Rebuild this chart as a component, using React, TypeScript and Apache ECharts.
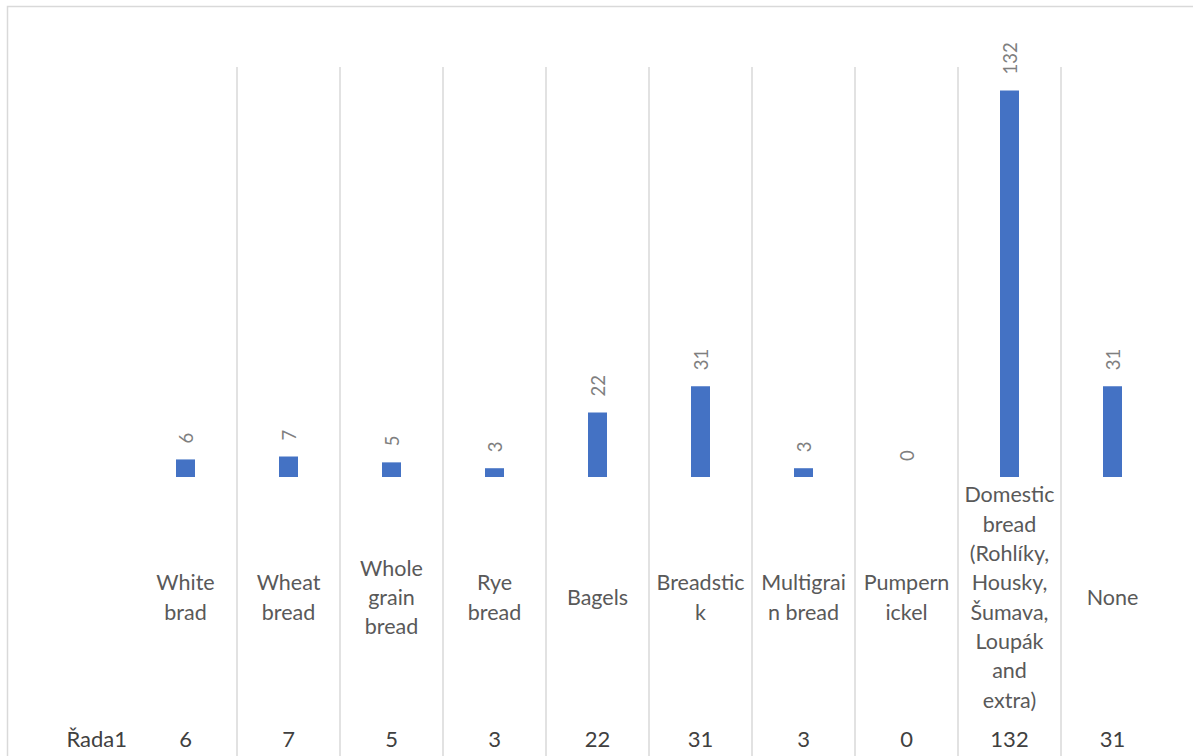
import React, { useEffect, useRef } from "react";
import * as echarts from "echarts";

const categories = [
  "White\nbrad",
  "Wheat\nbread",
  "Whole\ngrain\nbread",
  "Rye\nbread",
  "Bagels",
  "Breadstic\nk",
  "Multigrai\nn bread",
  "Pumpern\nickel",
  "Domestic\nbread\n(Rohlíky,\nHousky,\nŠumava,\nLoupák\nand\nextra)",
  "None",
];
const seriesName = "Řada1";
const values = [6, 7, 5, 3, 22, 31, 3, 0, 132, 31];
const yMax = 140;

const FONT = "Lato, 'Open Sans', sans-serif";
const GRID_COLOR = "#d9d9d9";

export default function App() {
  const ref = useRef<HTMLDivElement>(null);
  useEffect(() => {
    if (!ref.current) return;
    const chart = echarts.init(ref.current, null, { renderer: "svg" });
    const splitLine = {
      show: true,
      showMinLine: false,
      showMaxLine: false,
      lineStyle: { color: GRID_COLOR, width: 1.5 },
    };
    chart.setOption({
      animation: false,
      textStyle: { fontFamily: FONT },
      grid: [
        { left: 134, right: 29, top: 67, bottom: 279 },
        { left: 134, right: 29, top: 477, bottom: 0 },
      ],
      xAxis: [
        {
          type: "category",
          gridIndex: 0,
          data: categories,
          axisLine: { show: false },
          axisTick: { show: false },
          splitLine,
          axisLabel: {
            interval: 0,
            margin: 120,
            verticalAlign: "middle",
            align: "center",
            lineHeight: 29.3,
            fontSize: 21.5,
            color: "#595959",
            fontFamily: FONT,
          },
        },
        {
          type: "category",
          gridIndex: 1,
          data: categories,
          position: "bottom",
          offset: -18,
          axisLine: { show: false },
          axisTick: { show: false },
          splitLine,
          axisLabel: {
            interval: 0,
            margin: 0,
            verticalAlign: "middle",
            align: "center",
            fontSize: 22,
            color: "#404040",
            fontFamily: FONT,
            formatter: (_v: string, i: number) => String(values[i]),
          },
        },
      ],
      yAxis: [
        { type: "value", gridIndex: 0, min: 0, max: yMax, show: false, splitLine: { show: false } },
        { type: "value", gridIndex: 1, show: false, splitLine: { show: false } },
      ],
      series: [
        {
          name: seriesName,
          type: "bar",
          xAxisIndex: 0,
          yAxisIndex: 0,
          data: values,
          barWidth: 19,
          itemStyle: { color: "#4472c4" },
          label: {
            show: true,
            position: "top",
            distance: 16,
            rotate: 90,
            align: "left",
            verticalAlign: "middle",
            fontSize: 18.5,
            color: "#7f7f7f",
            fontFamily: FONT,
          },
        },
      ],
      graphic: [
        {
          type: "rect",
          shape: { x: 7.5, y: 6.5, width: 1300, height: 900 },
          style: { fill: "none", stroke: GRID_COLOR, lineWidth: 1.5 },
          silent: true,
        },
        {
          type: "text",
          x: 127,
          y: 738,
          style: {
            text: seriesName,
            align: "right",
            verticalAlign: "middle",
            fontSize: 22,
            fill: "#404040",
            fontFamily: FONT,
          },
        },
      ],
    });
    return () => chart.dispose();
  }, []);
  return (
    <div
      ref={ref}
      style={{ position: "absolute", left: 0, top: 0, width: 1193, height: 756 }}
    />
  );
}
